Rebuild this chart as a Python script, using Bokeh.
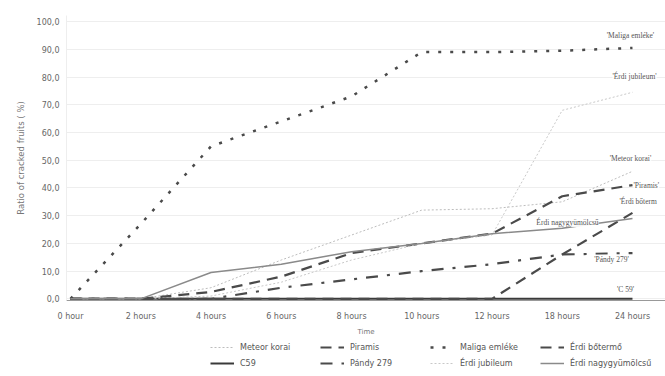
from bokeh.plotting import figure
from bokeh.models import Range1d, FixedTicker, Legend, LegendItem, ColumnDataSource
from bokeh.layouts import column
from bokeh.core.properties import value
from bokeh.embed import file_html
from bokeh.resources import INLINE

# ---- data ----
categories = ["0 hour", "2 hours", "4 hours", "6 hours", "8 hours",
              "10 hours", "12 hours", "18 hours", "24 hours"]
meteor_korai = [0, 0, 4, 14, 23, 32, 32.5, 35, 46]
c59 = [0, 0, 0, 0, 0, 0, 0, 0, 0]
piramis = [0, 0, 2.5, 8, 16.5, 20, 23.5, 37, 41]
pandy_279 = [0, 0, 0, 4, 7, 10, 12.5, 16, 16.5]
maliga_emleke = [0, 27, 55, 64, 73, 89, 89, 89.5, 90.5]
erdi_jubileum = [0, 0, 1, 6, 14, 20, 23, 68, 74.5]
erdi_botermo = [0, 0, 0, 0, 0, 0, 0, 16, 31]
erdi_nagygyumolcsu = [0, 0, 9.5, 12.5, 17, 20, 23.5, 25.5, 29]
y_ticks = [0, 10, 20, 30, 40, 50, 60, 70, 80, 90, 100]

x = list(range(len(categories)))

p = figure(width=665, height=339, output_backend="svg", toolbar_location=None,
           x_range=Range1d(-0.057, 8.47), y_range=Range1d(-0.6, 102.2),
           min_border_left=66, min_border_right=0, min_border_top=15,
           min_border_bottom=39)
p.outline_line_color = None
p.background_fill_color = "white"

# axes
p.xaxis.ticker = FixedTicker(ticks=x)
p.xaxis.major_label_overrides = {i: c for i, c in enumerate(categories)}
p.yaxis.ticker = FixedTicker(ticks=y_ticks)
p.yaxis.major_label_overrides = {t: f"{t},0" for t in y_ticks}
for ax in (p.xaxis[0], p.yaxis[0]):
    ax.major_tick_line_color = None
    ax.minor_tick_line_color = None
    ax.major_label_text_font = "DejaVu Sans"
    ax.major_label_text_font_size = "8px"
    ax.major_label_text_color = "#666666"
    ax.axis_label_text_font = "DejaVu Sans"
    ax.axis_label_text_font_style = "normal"
    ax.axis_label_text_color = "#777777"
p.xaxis.axis_line_color = "#999999"
p.yaxis.axis_line_color = "#eeeeee"
p.xaxis.axis_label = "Time"
p.xaxis.axis_label_text_font_size = "7px"
p.xaxis.major_label_standoff = 5
p.xaxis.axis_label_standoff = 4
p.yaxis.axis_label = "Ratio of cracked fruits ( %)"
p.yaxis.axis_label_text_font_size = "8.5px"
p.yaxis.major_label_standoff = 1
p.yaxis.axis_label_standoff = 8
p.xgrid.grid_line_color = None
p.ygrid.grid_line_color = "#eeeeee"

series = [
    ("Meteor korai", meteor_korai, dict(line_color="#bdbdbd", line_width=1, line_dash="2 2")),
    ("C59", c59, dict(line_color="#3a3a3a", line_width=2)),
    ("Piramis", piramis, dict(line_color="#4a4a4a", line_width=2.2, line_dash="11 7")),
    ("Pándy 279", pandy_279, dict(line_color="#4a4a4a", line_width=2.2, line_dash="12 9 3 9")),
    ("Maliga emléke", maliga_emleke, dict(line_color="#4a4a4a", line_width=2.5, line_dash="3 9")),
    ("Érdi jubileum", erdi_jubileum, dict(line_color="#c8c8c8", line_width=1, line_dash="2 2")),
    ("Érdi bőtermő", erdi_botermo, dict(line_color="#4a4a4a", line_width=2.2, line_dash="11 7")),
    ("Érdi nagygyümölcsű", erdi_nagygyumolcsu, dict(line_color="#8a8a8a", line_width=1.5)),
]

for name, ys, style in series:
    p.line(x, ys, **style)

# in-chart series labels (anchored to each series' last point)
label_names = ["'Maliga emléke'", "'Érdi jubileum'", "'Meteor korai'", "'Piramis'",
               "'Érdi bőterm", "Érdi nagygyümölcsű", "'Pándy 279'", "'C 59'"]
label_vals = [maliga_emleke, erdi_jubileum, meteor_korai, piramis,
              erdi_botermo, erdi_nagygyumolcsu, pandy_279, c59]
dx = [-2, 2, -2, 1, -13, -65, -21, -7]
dy = [-12, -16, -13, 0, -11, 4, 6, -9]
align = ["center", "center", "center", "left", "left", "center", "center", "center"]
src = ColumnDataSource(dict(
    x=[x[-1]] * len(label_names),
    y=[v[-1] for v in label_vals],
    t=label_names, dx=dx, dy=dy, al=align))
p.text(x="x", y="y", text="t", x_offset="dx", y_offset="dy", source=src,
       text_align="al", text_baseline="middle",
       text_font=value("Liberation Serif"), text_font_size="7.5px",
       text_color="#555555", background_fill_color="white",
       background_fill_alpha=0.9)

# ---- legend strip below the chart ----
lg = figure(width=665, height=37, output_backend="svg", toolbar_location=None,
            x_axis_type=None, y_axis_type=None, min_border=0,
            x_range=Range1d(100, 101), y_range=Range1d(100, 101))
lg.outline_line_color = None
lg.xgrid.grid_line_color = None
lg.ygrid.grid_line_color = None
items = []
for name, ys, style in series:
    r = lg.line(x, ys, **style)   # legend proxies (outside the strip's view)
    items.append(LegendItem(label=name, renderers=[r]))

for row, vy in ((0, 23), (1, 7)):
    leg = Legend(items=items[row::2], location=(144, vy), orientation="horizontal",
                 label_text_font="DejaVu Sans", label_text_font_size="8px",
                 label_text_color="#555555", label_height=12, glyph_height=12,
                 glyph_width=24, label_width=80, label_standoff=6, spacing=0,
                 padding=1, margin=0, border_line_color=None,
                 background_fill_alpha=0)
    lg.add_layout(leg, "center")

layout = column(p, lg, spacing=0)
open("out.html", "w").write(file_html(layout, INLINE))
